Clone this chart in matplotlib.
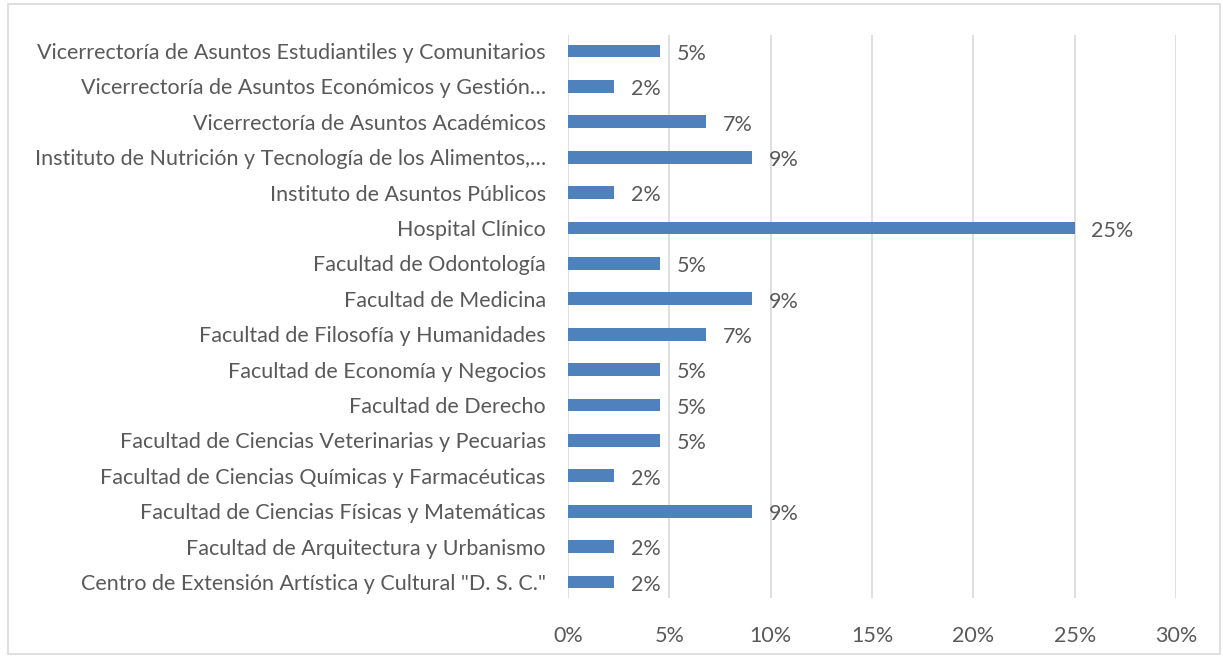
"""Horizontal bar chart of share per unit."""
import matplotlib
matplotlib.use("Agg")
import matplotlib.pyplot as plt
from matplotlib.patches import Rectangle
from matplotlib.ticker import FuncFormatter

# bottom to top, as drawn
units = [
    'Centro de Extensión Artística y Cultural "D. S. C."',
    "Facultad de Arquitectura y Urbanismo",
    "Facultad de Ciencias Físicas y Matemáticas",
    "Facultad de Ciencias Químicas y Farmacéuticas",
    "Facultad de Ciencias Veterinarias y Pecuarias",
    "Facultad de Derecho",
    "Facultad de Economía y Negocios",
    "Facultad de Filosofía y Humanidades",
    "Facultad de Medicina",
    "Facultad de Odontología",
    "Hospital Clínico",
    "Instituto de Asuntos Públicos",
    "Instituto de Nutrición y Tecnología de los Alimentos,…",
    "Vicerrectoría de Asuntos Académicos",
    "Vicerrectoría de Asuntos Económicos y Gestión…",
    "Vicerrectoría de Asuntos Estudiantiles y Comunitarios",
]
# shares in percent
shares = [2.27, 2.27, 9.09, 2.27, 4.55, 4.55, 4.55, 6.82,
          9.09, 4.55, 25.0, 2.27, 9.09, 6.82, 2.27, 4.55]
xticks = [0, 5, 10, 15, 20, 25, 30]

TEXT = "#595959"
FS = 15.5
plt.rcParams["font.family"] = ["Lato", "DejaVu Sans"]

fig = plt.figure(figsize=(12.23, 6.58), dpi=100)
ax = fig.add_axes([568 / 1223, 1 - 598 / 658, 608 / 1223, 563 / 658])

pos = list(range(len(units)))
ax.barh(pos, shares, height=0.36, color="#4F81BD", zorder=3)
for y, v in zip(pos, shares):
    ax.annotate(f"{round(v)}%", (v, y), xytext=(12, -2), textcoords="offset points",
                va="center", ha="left", fontsize=FS, color=TEXT)

ax.set_xlim(0, 30)
ax.set_ylim(-0.45, 15.45)
ax.set_xticks(xticks)
ax.xaxis.set_major_formatter(FuncFormatter(lambda v, _: f"{v:.0f}%"))
ax.set_yticks(pos)
ax.set_yticklabels(units)
ax.tick_params(axis="both", length=0, labelsize=FS, labelcolor=TEXT)
ax.tick_params(axis="x", pad=20)
ax.tick_params(axis="y", pad=16)
ax.grid(axis="x", color="#D9D9D9", linewidth=1.2, zorder=0)
for s in ax.spines.values():
    s.set_visible(False)

# chart border
fig.patches.append(Rectangle((8 / 1223, 4 / 658), 1212 / 1223, 650 / 658,
                             transform=fig.transFigure, fill=False,
                             edgecolor="#D9D9D9", linewidth=1.2))

fig.savefig("out.png", dpi=100)
